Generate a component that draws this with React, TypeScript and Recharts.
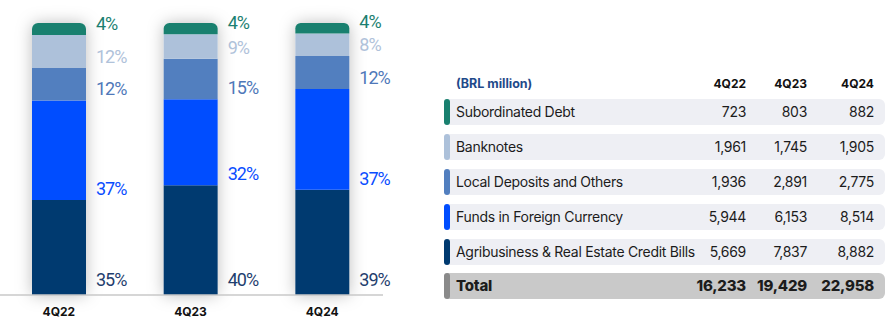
import React from 'react'
import { Bar, BarChart, LabelList, XAxis, YAxis } from 'recharts'

const quarters = ['4Q22', '4Q23', '4Q24']

// BRL million
const subordinatedDebt = [723, 803, 882]
const banknotes = [1961, 1745, 1905]
const localDeposits = [1936, 2891, 2775]
const foreignFunds = [5944, 6153, 8514]
const agribusinessBills = [5669, 7837, 8882]
const totals = [16233, 19429, 22958]

// share labels as printed
const subordinatedPct = ['4%', '4%', '4%']
const banknotesPct = ['12%', '9%', '8%']
const localPct = ['12%', '15%', '12%']
const foreignPct = ['37%', '32%', '37%']
const agriPct = ['35%', '40%', '39%']

const COLORS = {
  sub: '#19806f',
  notes: '#adc1da',
  local: '#527fbf',
  foreign: '#004dff',
  agri: '#003a70',
}

const LABEL_COLORS = {
  sub: '#1b7f71',
  notes: '#b0c2da',
  local: '#4f78b9',
  foreign: '#0a4dff',
  agri: '#1f3e6e',
}

const chartData = quarters.map((quarter, i) => ({
  quarter,
  total: totals[i],
  agri: agribusinessBills[i],
  foreign: foreignFunds[i],
  local: localDeposits[i],
  notes: banknotes[i],
  sub: subordinatedDebt[i],
  agriPct: agriPct[i],
  foreignPct: foreignPct[i],
  localPct: localPct[i],
  notesPct: banknotesPct[i],
  subPct: subordinatedPct[i],
}))

const tableRows = [
  { name: 'Subordinated Debt', color: COLORS.sub, values: subordinatedDebt },
  { name: 'Banknotes', color: COLORS.notes, values: banknotes },
  { name: 'Local Deposits and Others', color: COLORS.local, values: localDeposits },
  { name: 'Funds in Foreign Currency', color: COLORS.foreign, values: foreignFunds },
  { name: 'Agribusiness & Real Estate Credit Bills', color: COLORS.agri, values: agribusinessBills },
]

const fmt = (n: number) => n.toLocaleString('en-US')

const pctLabel = (color: string, lift: number) => (props: any) => {
  const { x, y, width, height, value } = props
  return (
    <text
      x={Number(x) + Number(width) + 10}
      y={Number(y) + Number(height) - lift}
      fill={color}
      fontSize={18}
      fontFamily="Roboto, sans-serif"
      letterSpacing={-1}
      textAnchor="start"
    >
      {value}
    </text>
  )
}

const QuarterTick = (props: any) => {
  const { x, y, payload } = props
  return (
    <text x={x} y={y} dy="0.71em" textAnchor="middle" fontSize={12} fontWeight={700} fill="#111" fontFamily="Inter, sans-serif">
      {payload.value}
    </text>
  )
}

const colRight = [746, 807, 874]
const rowTops = [99, 134, 169, 204, 239]
const font = 'Inter, sans-serif'

const chartProps = {
  width: 395,
  height: 321,
  data: chartData,
  stackOffset: 'expand' as const,
  margin: { top: 23, right: 12, left: 0, bottom: 0 },
  barSize: 54,
}
const axisPadding = { left: -7, right: -5 }

function Row({ top, color, bg, name, values, bold }: any) {
  const text = {
    position: 'absolute' as const,
    top,
    height: 26,
    lineHeight: '26px',
    fontSize: bold ? 15 : 14,
    fontWeight: bold ? 800 : 400,
    letterSpacing: bold ? -0.2 : -0.3,
    color: '#1c1c1c',
    whiteSpace: 'nowrap' as const,
  }
  return (
    <>
      <div style={{ position: 'absolute', left: 447, top, width: 438, height: 26, background: bg, borderRadius: '0 6px 6px 0' }} />
      <div style={{ position: 'absolute', left: 444, top, width: 6, height: 26, background: color, borderRadius: 3 }} />
      <div style={{ ...text, left: 456 }}>{name}</div>
      {values.map((v: number, i: number) => (
        <div key={i} style={{ ...text, left: colRight[i] - 80, width: 80, textAlign: 'right' }}>
          {fmt(v)}
        </div>
      ))}
    </>
  )
}

export default function App() {
  return (
    <div style={{ position: 'absolute', left: 0, top: 0, width: 885, height: 321, background: '#fff', fontFamily: font }}>
      {/* shadow layer behind the stacks */}
      <div style={{ position: 'absolute', left: 0, top: 0, filter: 'drop-shadow(0px 0px 8px rgba(0,0,0,0.26))' }}>
        <BarChart {...chartProps}>
          <XAxis dataKey="quarter" height={26} axisLine={false} tickLine={false} tick={false} padding={axisPadding} />
          <YAxis hide domain={[0, 1]} />
          <Bar dataKey="total" stackId="s" fill="#ffffff" radius={[6, 6, 0, 0]} isAnimationActive={false} />
        </BarChart>
      </div>

      <div style={{ position: 'absolute', left: 0, top: 0 }}>
        <BarChart {...chartProps}>
          <XAxis
            dataKey="quarter"
            height={26}
            axisLine={{ stroke: '#c9c9c9', strokeWidth: 1.5 }}
            tickLine={false}
            tickMargin={6}
            padding={axisPadding}
            tick={<QuarterTick />}
          />
          <YAxis hide domain={[0, 1]} />
          <Bar dataKey="agri" stackId="a" fill={COLORS.agri} isAnimationActive={false}>
            <LabelList dataKey="agriPct" content={pctLabel(LABEL_COLORS.agri, 9)} />
          </Bar>
          <Bar dataKey="foreign" stackId="a" fill={COLORS.foreign} isAnimationActive={false}>
            <LabelList dataKey="foreignPct" content={pctLabel(LABEL_COLORS.foreign, 5)} />
          </Bar>
          <Bar dataKey="local" stackId="a" fill={COLORS.local} isAnimationActive={false}>
            <LabelList dataKey="localPct" content={pctLabel(LABEL_COLORS.local, 5)} />
          </Bar>
          <Bar dataKey="notes" stackId="a" fill={COLORS.notes} isAnimationActive={false}>
            <LabelList dataKey="notesPct" content={pctLabel(LABEL_COLORS.notes, 5)} />
          </Bar>
          <Bar dataKey="sub" stackId="a" fill={COLORS.sub} radius={[6, 6, 0, 0]} isAnimationActive={false}>
            <LabelList dataKey="subPct" content={pctLabel(LABEL_COLORS.sub, 5)} />
          </Bar>
        </BarChart>
      </div>

      <div style={{ position: 'absolute', left: 456, top: 76, fontSize: 12.5, fontWeight: 700, color: '#1f4a8a', lineHeight: '16px' }}>
        (BRL million)
      </div>
      {quarters.map((q, i) => (
        <div
          key={q}
          style={{
            position: 'absolute',
            left: colRight[i] - 80,
            width: 80,
            top: 76,
            lineHeight: '16px',
            textAlign: 'right',
            fontSize: 12,
            fontWeight: 700,
            color: '#111',
          }}
        >
          {q}
        </div>
      ))}

      {tableRows.map((r, i) => (
        <Row key={r.name} top={rowTops[i]} color={r.color} bg="#eeeff4" name={r.name} values={r.values} />
      ))}
      <Row top={273} color="#8a8a8a" bg="#c9c9c9" name="Total" values={totals} bold />
    </div>
  )
}
